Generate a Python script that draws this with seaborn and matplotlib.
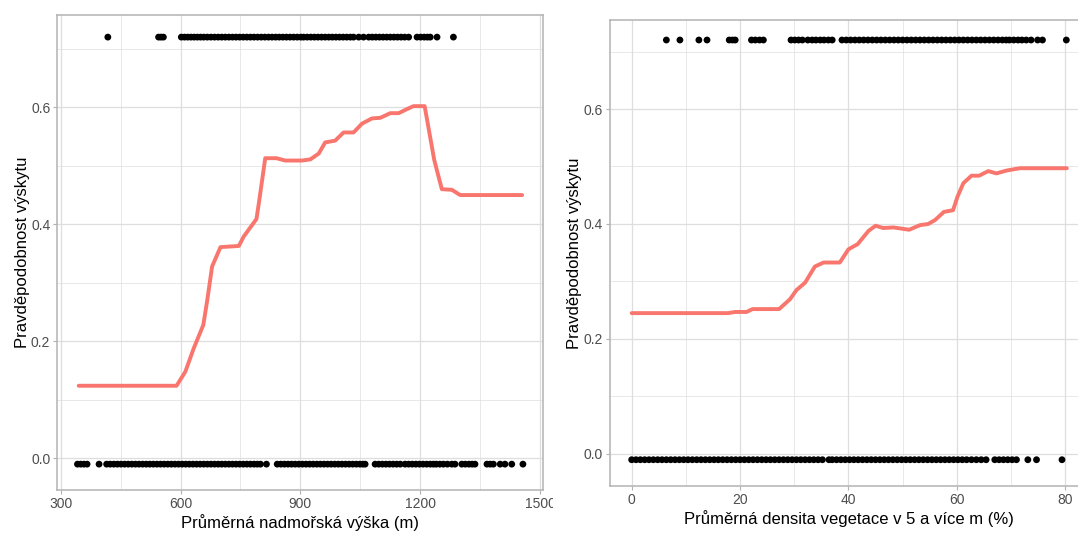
import numpy as np
import pandas as pd
import matplotlib
matplotlib.use('Agg')
import matplotlib.pyplot as plt
from matplotlib.patches import Rectangle
from matplotlib.ticker import MultipleLocator
import seaborn as sns

# --- elevation panel: fitted curve ---
elev_m = [345, 590, 612, 633, 657, 667, 679, 700, 746, 758, 790, 796, 812, 840, 862, 904,
          925, 946, 962, 987, 1008, 1033, 1054, 1079, 1100, 1125, 1146, 1167, 1183, 1211,
          1223, 1235, 1254, 1279, 1300, 1455]
elev_prob = [0.124, 0.124, 0.148, 0.188, 0.228, 0.271, 0.328, 0.361, 0.363, 0.379, 0.409, 0.436,
             0.513, 0.513, 0.509, 0.509, 0.511, 0.521, 0.540, 0.543, 0.557, 0.557, 0.572, 0.581,
             0.582, 0.590, 0.590, 0.597, 0.602, 0.602, 0.556, 0.510, 0.460, 0.459, 0.450, 0.450]

# observed sites (presence drawn on top, absence at bottom)
elev_presence = [418, 545, 551, 557, 602, 610, 618, 626, 634, 642, 650, 658, 667, 676, 685, 694,
                 703, 712, 721, 730, 739, 748, 757, 766, 775, 784, 793, 802, 811, 820, 829, 838,
                 847, 856, 865, 874, 883, 892, 901, 908, 917, 926, 935, 944, 953, 962, 971, 980,
                 989, 998, 1007, 1016, 1025, 1033, 1046, 1058, 1071, 1080, 1089, 1098, 1107, 1116,
                 1125, 1134, 1143, 1152, 1161, 1171, 1192, 1201, 1210, 1218, 1225, 1242, 1283]
elev_absence = [342, 350, 358, 366, 396, 415, 424, 433, 442, 451, 460, 469, 478, 487, 496, 505,
                514, 523, 532, 541, 550, 559, 568, 577, 586, 595, 604, 613, 622, 631, 640, 649,
                658, 667, 676, 685, 694, 703, 712, 721, 730, 739, 748, 757, 766, 775, 784, 792,
                800, 815, 842, 851, 860, 869, 878, 887, 896, 905, 914, 923, 932, 941, 950, 959,
                968, 977, 986, 995, 1004, 1013, 1022, 1031, 1040, 1049, 1056, 1062, 1087, 1096,
                1105, 1114, 1123, 1132, 1141, 1150, 1162, 1171, 1180, 1189, 1198, 1207, 1216,
                1225, 1233, 1240, 1249, 1258, 1268, 1279, 1287, 1304, 1313, 1322, 1330, 1337,
                1367, 1375, 1383, 1400, 1412, 1429, 1457]

# --- vegetation density panel ---
veg_pct = [0.0, 17.8, 19.1, 21.2, 22.3, 27.2, 29.2, 30.4, 32.0, 33.8, 35.4, 38.4, 40.0, 41.7,
           43.7, 45.0, 46.4, 48.3, 51.2, 53.2, 54.7, 56.0, 57.6, 59.3, 60.1, 61.2, 62.7, 64.1,
           65.8, 67.3, 69.2, 71.6, 80.3]
veg_prob = [0.245, 0.245, 0.247, 0.247, 0.252, 0.252, 0.269, 0.285, 0.298, 0.326, 0.333, 0.333,
            0.356, 0.365, 0.388, 0.397, 0.393, 0.394, 0.390, 0.398, 0.400, 0.407, 0.421, 0.424,
            0.447, 0.471, 0.484, 0.484, 0.492, 0.488, 0.493, 0.497, 0.497]

veg_presence = [6.4, 8.9, 12.4, 13.9, 18.0, 18.6, 19.1, 22.1, 22.8, 23.6, 24.3, 29.4, 30.1, 30.8,
                31.5, 32.5, 33.3, 34.0, 34.8, 35.5, 36.3, 37.0, 38.8, 39.6, 40.4, 41.2, 42.0,
                42.8, 43.6, 44.4, 45.2, 46.0, 46.8, 47.6, 48.4, 49.2, 50.0, 50.8, 51.6, 52.4,
                53.2, 54.0, 54.8, 55.6, 56.4, 57.2, 58.0, 58.8, 59.6, 60.4, 61.2, 62.0, 62.8,
                63.6, 64.4, 65.2, 66.0, 66.8, 67.6, 68.4, 69.1, 69.7, 70.5, 71.3, 72.0, 72.8,
                73.7, 74.9, 75.8, 80.2]
veg_absence = [0.0, 0.8, 1.6, 2.4, 3.2, 4.0, 4.8, 5.6, 6.4, 7.2, 8.0, 8.8, 9.6, 10.4, 11.2, 12.0,
               12.8, 13.6, 14.4, 15.2, 16.0, 16.8, 17.6, 18.4, 19.2, 20.0, 20.8, 21.6, 22.4,
               23.2, 24.0, 24.8, 25.6, 26.4, 27.2, 28.0, 28.8, 29.6, 30.4, 31.2, 32.0, 32.8,
               33.6, 34.4, 35.2, 36.4, 37.0, 37.8, 38.6, 39.4, 40.2, 41.0, 41.8, 42.6, 43.4,
               44.2, 45.0, 45.8, 46.6, 47.4, 48.2, 49.0, 49.8, 50.6, 51.4, 52.2, 53.0, 53.8,
               54.6, 55.4, 56.2, 57.0, 57.8, 58.6, 59.4, 60.2, 61.0, 61.8, 62.7, 63.6, 64.5,
               65.4, 67.0, 67.8, 68.6, 69.4, 70.2, 71.0, 73.1, 74.7, 79.4]

PRESENCE_Y = 0.72
ABSENCE_Y = -0.01

sns.set_theme(style='whitegrid')
plt.rcParams['font.family'] = ['Liberation Sans', 'DejaVu Sans']

LINE_COL = '#F8766D'
GRID_COL = '#DEDEDE'
BORDER_COL = '#B3B3B3'
TICK_TXT = '#4D4D4D'

fig = plt.figure(figsize=(10.78, 5.34), dpi=100)
ax1 = fig.add_axes([57.3 / 1078, 44 / 534, 486 / 1078, 475 / 534])
ax2 = fig.add_axes([610 / 1078, 48 / 534, 478 / 1078, 466 / 534])


def draw_panel(ax, x_curve, y_curve, pres, absn, xlabel):
    pts = pd.DataFrame({'x': pres + absn,
                        'y': [PRESENCE_Y] * len(pres) + [ABSENCE_Y] * len(absn)})
    sns.scatterplot(data=pts, x='x', y='y', ax=ax, color='black', s=24,
                    edgecolor='none', zorder=3)
    sns.lineplot(x=x_curve, y=y_curve, ax=ax, color=LINE_COL, linewidth=2.8, zorder=4)
    ax.set_xlabel(xlabel, fontsize=12, color='black', labelpad=2)
    ax.set_ylabel('Pravděpodobnost výskytu', fontsize=12, color='black', labelpad=1)
    ax.yaxis.set_major_locator(MultipleLocator(0.2))
    ax.yaxis.set_minor_locator(MultipleLocator(0.1))
    ax.set_yticklabels([f'{t:.1f}' for t in ax.get_yticks()])
    ax.grid(which='major', color=GRID_COL, linewidth=0.9)
    ax.grid(which='minor', color=GRID_COL, linewidth=0.5)
    ax.set_axisbelow(True)
    for sp in ax.spines.values():
        sp.set_color(BORDER_COL)
        sp.set_linewidth(1.1)
    ax.tick_params(which='major', length=3, width=0.8, color=BORDER_COL,
                   labelcolor=TICK_TXT, labelsize=10, pad=2, bottom=True, left=True)
    ax.tick_params(which='minor', length=0)


ax1.set_ylim(-0.0542, 0.7578)
ax1.set_xlim(291.5, 1508)
ax1.xaxis.set_major_locator(MultipleLocator(300))
ax1.xaxis.set_minor_locator(MultipleLocator(150))
draw_panel(ax1, elev_m, elev_prob, elev_presence, elev_absence,
           'Průměrná nadmořská výška (m)')
ax1.set_ylim(-0.0542, 0.7578)
ax1.set_xlim(291.5, 1508)

ax2.set_ylim(-0.0557, 0.7548)
ax2.set_xlim(-4.0, 84.2)
ax2.xaxis.set_major_locator(MultipleLocator(20))
ax2.xaxis.set_minor_locator(MultipleLocator(10))
draw_panel(ax2, veg_pct, veg_prob, veg_presence, veg_absence,
           'Průměrná densita vegetace v 5 a více m (%)')
ax2.set_ylim(-0.0557, 0.7548)
ax2.set_xlim(-4.0, 84.2)

# the left picture was cropped just after its last tick label
fig.patches.append(Rectangle((553 / 1078, 0), 28 / 1078, 60 / 534,
                             transform=fig.transFigure, facecolor='white',
                             edgecolor='none', zorder=10))

fig.savefig('out.png', dpi=100)
